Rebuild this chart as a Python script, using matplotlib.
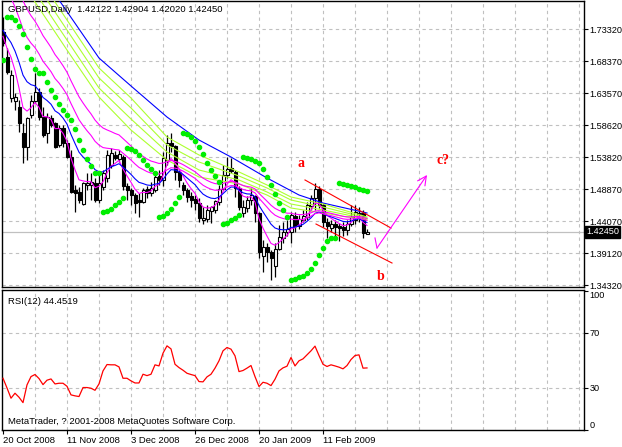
import matplotlib
matplotlib.use("Agg")
import matplotlib.pyplot as plt
import numpy as np
import pandas as pd

plt.rcParams["font.family"] = ["Liberation Sans", "DejaVu Sans"]

# --- dados (GBPUSD diário, 20 Oct 2008 -> fim Feb 2009) ---
opens = [1.7286, 1.6906, 1.6281, 1.6235, 1.6144, 1.5748, 1.5534, 1.6022, 1.6235, 1.6372,
         1.5991, 1.5748, 1.5976, 1.5900, 1.5565, 1.5824, 1.5595, 1.5382, 1.4879, 1.4849,
         1.4666, 1.4956, 1.4956, 1.4986, 1.4727, 1.4925, 1.5062, 1.5260, 1.5413, 1.5352,
         1.5382, 1.4940, 1.4879, 1.4803, 1.4727, 1.4697, 1.4895, 1.4834, 1.4879, 1.5093,
         1.5032, 1.5336, 1.5595, 1.5550, 1.5154, 1.4956, 1.4879, 1.4788, 1.4742, 1.4681,
         1.4422, 1.4438, 1.4559, 1.4575, 1.4697, 1.4895, 1.5108, 1.5215, 1.5154, 1.4910,
         1.4529, 1.4605, 1.4727, 1.4788, 1.4529, 1.3874, 1.4011, 1.3935, 1.3722, 1.3981,
         1.4148, 1.4240, 1.4240, 1.4483, 1.4331, 1.4422, 1.4468, 1.4636, 1.4757, 1.4895,
         1.4651, 1.4392, 1.4300, 1.4361, 1.4331, 1.4316, 1.4270, 1.4361, 1.4422, 1.4514,
         1.4529, 1.42122]
highs = [1.7515, 1.7043, 1.6707, 1.6357, 1.6250, 1.5900, 1.5991, 1.6327, 1.6662, 1.6433,
         1.6144, 1.6052, 1.6022, 1.5915, 1.5870, 1.5870, 1.5641, 1.5489, 1.4956, 1.4925,
         1.5001, 1.5138, 1.5138, 1.5062, 1.5108, 1.5184, 1.5489, 1.5519, 1.5473, 1.5489,
         1.5413, 1.4986, 1.4910, 1.4834, 1.4834, 1.4910, 1.4940, 1.5001, 1.5108, 1.5184,
         1.5458, 1.5717, 1.5748, 1.5565, 1.5184, 1.5001, 1.4910, 1.4849, 1.4803, 1.4757,
         1.4620, 1.4651, 1.4636, 1.4727, 1.4956, 1.5260, 1.5382, 1.5367, 1.5184, 1.4940,
         1.4727, 1.4788, 1.4910, 1.4803, 1.4544, 1.4118, 1.4072, 1.3965, 1.4072, 1.4346,
         1.4392, 1.4422, 1.4544, 1.4544, 1.4499, 1.4575, 1.4697, 1.4803, 1.4986, 1.4940,
         1.4681, 1.4453, 1.4422, 1.4422, 1.4377, 1.4392, 1.4422, 1.4651, 1.4651, 1.4620,
         1.4575, 1.42904]
lows = [1.7073, 1.6647, 1.6220, 1.6098, 1.5763, 1.5291, 1.5336, 1.5976, 1.6205, 1.5946,
        1.5687, 1.5595, 1.5839, 1.5519, 1.5534, 1.5534, 1.5367, 1.4834, 1.4544, 1.4681,
        1.4651, 1.4879, 1.4727, 1.4697, 1.4681, 1.4879, 1.5001, 1.5215, 1.5336, 1.5306,
        1.4879, 1.4727, 1.4651, 1.4529, 1.4468, 1.4681, 1.4757, 1.4788, 1.4849, 1.4956,
        1.4940, 1.5260, 1.5458, 1.5032, 1.4925, 1.4803, 1.4697, 1.4620, 1.4575, 1.4392,
        1.4361, 1.4392, 1.4377, 1.4529, 1.4651, 1.4879, 1.5062, 1.5138, 1.4773, 1.4575,
        1.4468, 1.4544, 1.4651, 1.4392, 1.3843, 1.3630, 1.3782, 1.3508, 1.3554, 1.3965,
        1.4072, 1.4179, 1.4072, 1.4240, 1.4285, 1.4392, 1.4422, 1.4575, 1.4575, 1.4605,
        1.4316, 1.4148, 1.4240, 1.4148, 1.4105, 1.4179, 1.4194, 1.4331, 1.4361, 1.4392,
        1.4148, 1.42020]
closes = [1.7119, 1.6677, 1.6631, 1.6296, 1.5900, 1.5534, 1.5976, 1.6235, 1.6372, 1.5991,
          1.5717, 1.5991, 1.5870, 1.5534, 1.5824, 1.5595, 1.5382, 1.4849, 1.4834, 1.4727,
          1.4986, 1.4986, 1.5001, 1.4727, 1.4986, 1.5138, 1.5413, 1.5443, 1.5367, 1.5428,
          1.4940, 1.4879, 1.4803, 1.4681, 1.4697, 1.4879, 1.4834, 1.4910, 1.5077, 1.5032,
          1.5367, 1.5595, 1.5550, 1.5154, 1.5032, 1.4879, 1.4773, 1.4727, 1.4681, 1.4453,
          1.4453, 1.4575, 1.4620, 1.4712, 1.4895, 1.5108, 1.5199, 1.5169, 1.4910, 1.4620,
          1.4620, 1.4727, 1.4803, 1.4529, 1.3935, 1.4011, 1.3935, 1.3843, 1.3981, 1.4163,
          1.4240, 1.4285, 1.4499, 1.4331, 1.4438, 1.4483, 1.4651, 1.4757, 1.4895, 1.4651,
          1.4392, 1.4331, 1.4361, 1.4316, 1.4300, 1.4270, 1.4361, 1.4468, 1.4544, 1.4529,
          1.4224, 1.42450]

rsi = [37.0, 30.0, 22.6, 26.2, 23.3, 19.4, 32.2, 38.2, 39.7, 36.8,
       32.4, 35.6, 36.5, 32.9, 33.4, 33.4, 31.2, 25.0, 24.3, 23.8,
       30.3, 30.3, 29.8, 28.3, 32.9, 42.3, 46.9, 46.7, 46.7, 45.2,
       37.0, 37.0, 35.1, 33.6, 33.6, 39.9, 38.9, 39.9, 46.7, 45.9,
       55.1, 60.4, 58.2, 47.1, 44.7, 42.8, 40.6, 39.7, 38.9, 34.6,
       34.4, 38.0, 39.9, 44.3, 49.6, 56.8, 59.2, 58.0, 53.2, 41.8,
       42.6, 44.3, 46.2, 38.2, 31.0, 34.1, 33.4, 31.7, 36.3, 42.3,
       44.5, 45.7, 52.0, 45.9, 49.6, 51.0, 53.9, 56.8, 60.2, 53.4,
       47.1, 45.5, 46.7, 45.9, 45.0, 43.8, 46.2, 50.5, 53.4, 53.9,
       44.3, 44.45]

# médias lentas lidas em alguns pontos
slow_bars = [0, 8, 16, 24, 32, 41, 49, 59, 66, 72, 80, 91]
green1 = [1.8459, 1.7743, 1.7012, 1.6296, 1.5793, 1.5336, 1.5077, 1.4971, 1.4803, 1.4605, 1.4529, 1.4422]
green2 = [1.8612, 1.7896, 1.7164, 1.6433, 1.5961, 1.5458, 1.5184, 1.5032, 1.4849, 1.4666, 1.4575, 1.4438]
green3 = [1.8764, 1.8048, 1.7317, 1.6586, 1.6129, 1.5565, 1.5306, 1.5093, 1.4910, 1.4727, 1.4620, 1.4453]
green4 = [1.8916, 1.8200, 1.7469, 1.6738, 1.6281, 1.5687, 1.5413, 1.5154, 1.4956, 1.4773, 1.4666, 1.4468]
blue_slow_bars = [0, 8, 14, 24, 32, 41, 49, 57, 66, 74, 80, 91]
blue_slow = [1.8993, 1.8307, 1.7774, 1.6890, 1.6464, 1.5991, 1.5641, 1.5382, 1.5062, 1.4803, 1.4681, 1.4529]

# EMAs calculadas dos fechamentos: (período, valor inicial, cor)
ema_config = [(5, 1.7271, "#ff00ff"), (12, 1.7347, "#0000ff"),
              (21, 1.8140, "#ff00ff"), (27, 1.8585, "#ff00ff")]
sar_inicio = 1.6860

price_ticks = [1.73320, 1.68370, 1.63570, 1.58620, 1.53820, 1.48870, 1.44070, 1.39120, 1.34320]
date_bars = [0, 16, 32, 48, 64, 80]
date_labels = ["20 Oct 2008", "11 Nov 2008", "3 Dec 2008", "26 Dec 2008", "20 Jan 2009", "11 Feb 2009"]

# desenho à mão (bar, preço)
linha_sup = ([75.5, 97.0], [1.5032, 1.4300])
linha_inf = ([78.25, 97.25], [1.4361, 1.3767])
seta = ([93.0, 93.5, 106.0], [1.4148, 1.3996, 1.5108])
letras = [("a", 74.5, 1.5290), ("b", 94.5, 1.3554), ("c?", 110, 1.5336)]


def ema(valores, periodo, inicio):
    s = pd.Series([inicio] + list(valores))
    return s.ewm(span=periodo, adjust=False).mean().values[1:]


def parabolic_sar(h, l, primeiro, step=0.02, limite=0.2):
    alta = True
    sar, ep, af = primeiro, h[0], step
    out = [sar]
    for i in range(1, len(h)):
        sar = sar + af * (ep - sar)
        j = max(i - 2, 0)
        if alta:
            sar = min(sar, l[i - 1], l[j])
            if l[i] < sar:
                alta, sar, ep, af = False, ep, l[i], step
            elif h[i] > ep:
                ep, af = h[i], min(af + step, limite)
        else:
            sar = max(sar, h[i - 1], h[j])
            if h[i] > sar:
                alta, sar, ep, af = True, ep, h[i], step
            elif l[i] < ep:
                ep, af = l[i], min(af + step, limite)
        out.append(sar)
    return out


n = len(closes)
x = np.arange(n)
W, H = 622, 447
fig = plt.figure(figsize=(W / 100, H / 100), dpi=100)
ax = fig.add_axes([2 / W, 1 - 287 / H, 582 / W, 286 / H])
ax_rsi = fig.add_axes([2 / W, 1 - 430 / H, 582 / W, 140 / H])

grade = dict(color="#c0c0c0", lw=0.8, ls=(0, (3, 3)), zorder=0)
for a in (ax, ax_rsi):
    a.set_xlim(-0.25, 145.25)
    for b in range(8, 146, 8):
        a.axvline(b, **grade)
    for s in a.spines.values():
        s.set_linewidth(1.0)
for p in price_ticks:
    ax.axhline(p, **grade)

ax.set_ylim(1.34016, 1.77586)
ax.axhline(closes[-1], color="#c0c0c0", lw=0.9, zorder=1)

# candles
o, h, l, c = map(np.array, (opens, highs, lows, closes))
ax.vlines(x, l, h, color="black", lw=0.9, zorder=2)
sobe = c >= o
corpo = np.maximum(np.abs(c - o), 0.0012)
ax.bar(x[sobe], corpo[sobe], bottom=np.minimum(o, c)[sobe], width=0.75,
       color="white", edgecolor="black", lw=0.8, zorder=2)
ax.bar(x[~sobe], corpo[~sobe], bottom=np.minimum(o, c)[~sobe], width=0.75,
       color="black", edgecolor="black", lw=0.8, zorder=2)

# médias
ax.plot(blue_slow_bars, blue_slow, color="#0000ff", lw=0.8, zorder=3)
for g in (green1, green2, green3, green4):
    ax.plot(slow_bars, g, color="#adff2f", lw=0.8, zorder=3)
for periodo, inicio, cor in ema_config:
    ax.plot(x, ema(closes, periodo, inicio), color=cor, lw=0.8, zorder=3)

ax.plot(x, parabolic_sar(highs, lows, sar_inicio), "o", color="#00ee00",
        ms=3.0, mec="#00ee00", zorder=4)

# desenhos
ax.plot(*linha_sup, color="red", lw=0.8, zorder=5)
ax.plot(*linha_inf, color="red", lw=0.8, zorder=5)
ax.plot(seta[0][:2], seta[1][:2], color="#ff00ff", lw=0.8, zorder=5)
ax.annotate("", xy=(seta[0][2], seta[1][2]), xytext=(seta[0][1], seta[1][1]),
            arrowprops=dict(arrowstyle="->", color="#ff00ff", lw=0.8,
                            mutation_scale=16, shrinkA=0, shrinkB=0), zorder=5)
for txt, bx, py in letras:
    ax.text(bx, py, txt, color="red", fontsize=10, fontweight="bold",
            family="Liberation Serif", ha="center", va="center", zorder=6)

ax.text(6 / 582, 1 - 9 / 286, "GBPUSD,Daily  1.42122 1.42904 1.42020 1.42450",
        transform=ax.transAxes, fontsize=6.8, va="center", ha="left", zorder=6)

ax.set_xticks([])
ax.yaxis.tick_right()
ax.set_yticks(price_ticks)
ax.set_yticklabels(["%.5f" % p for p in price_ticks])
ax.tick_params(axis="y", labelsize=6.6, length=3, pad=1, width=0.8)
ax.text(1.0035, closes[-1], "%.5f" % closes[-1], transform=ax.get_yaxis_transform(),
        fontsize=6.6, color="white", va="center", ha="left",
        bbox=dict(boxstyle="square,pad=0.15", fc="black", ec="black"), clip_on=False)

# RSI
ax_rsi.set_ylim(-0.36, 100.72)
for nivel in (30, 70):
    ax_rsi.axhline(nivel, **grade)
ax_rsi.plot(x, rsi, color="red", lw=0.9, zorder=3)
ax_rsi.yaxis.tick_right()
ax_rsi.set_yticks([100, 70, 30, 0])
ax_rsi.set_yticklabels(["100", "70", "30", "0"])
ax_rsi.tick_params(axis="y", labelsize=6.6, length=3, pad=1, width=0.8)
rot = ax_rsi.get_yticklabels()
rot[0].set_va("top")
rot[3].set_va("bottom")
ax_rsi.set_xticks(date_bars)
ax_rsi.set_xticklabels(date_labels, ha="left")
ax_rsi.tick_params(axis="x", labelsize=6.8, length=3, pad=1, width=0.8)
ax_rsi.text(6 / 582, 1 - 12 / 140, "RSI(12) 44.4519", transform=ax_rsi.transAxes,
            fontsize=6.8, va="center", ha="left")
ax_rsi.text(6 / 582, 9 / 140, "MetaTrader, ? 2001-2008 MetaQuotes Software Corp.",
            transform=ax_rsi.transAxes, fontsize=6.8, va="center", ha="left")

fig.savefig("out.png", dpi=100)
